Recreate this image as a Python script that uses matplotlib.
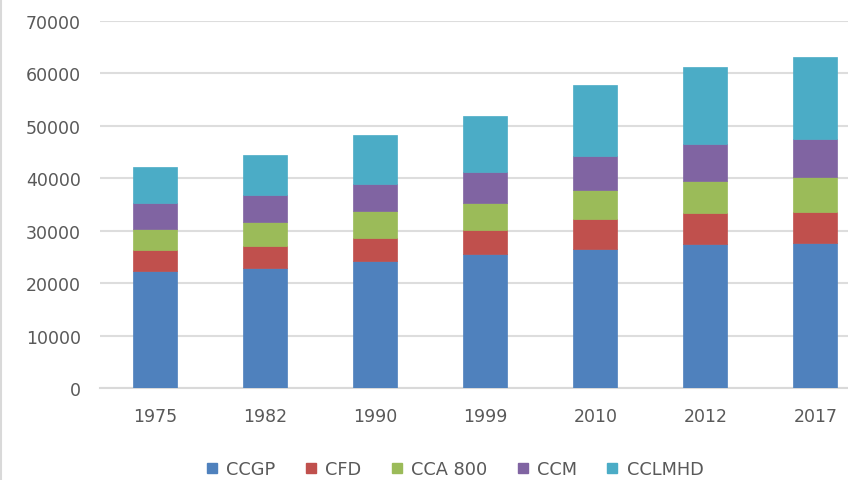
import matplotlib
matplotlib.use("Agg")
import matplotlib.pyplot as plt
import numpy as np
from matplotlib.lines import Line2D

years = ["1975", "1982", "1990", "1999", "2010", "2012", "2017"]
series_names = ["CCGP", "CFD", "CCA 800", "CCM", "CCLMHD"]
ccgp   = [22370, 22830, 24280, 25500, 26510, 27470, 27720]
cfd    = [3890, 4190, 4390, 4640, 5660, 5910, 5850]
cca800 = [4130, 4640, 5150, 5150, 5540, 6040, 6620]
ccm    = [4950, 5150, 5090, 5850, 6600, 7060, 7360]
cclmhd = [6810, 7570, 9340, 10800, 13480, 14690, 15640]
colors = ["#4F81BD", "#C0504D", "#9BBB59", "#8064A2", "#4BACC6"]

plt.rcParams['font.family'] = ['DejaVu Sans']
fig = plt.figure(figsize=(8.48, 4.81), dpi=100)
ax = fig.add_axes([100.3/848, 1-389/481, 770/848, 367/481])

x = np.arange(len(years))
bottom = np.zeros(len(years))
for name, vals, c in zip(series_names, [ccgp, cfd, cca800, ccm, cclmhd], colors):
    ax.bar(x, vals, width=0.4, bottom=bottom, color=c, edgecolor=c, linewidth=0.5, label=name, zorder=3)
    bottom += np.array(vals)

ax.set_xlim(-0.5, len(years)-0.5)
ax.set_ylim(0, 70000)
ax.set_yticks(range(0, 70001, 10000))
ax.set_xticks(x)
ax.set_xticklabels(years)
ax.yaxis.grid(True, color="#DDDDDD", linewidth=1.5, zorder=0)
for s in ["top", "right", "left"]:
    ax.spines[s].set_visible(False)
ax.spines["bottom"].set_color("#D9D9D9")
ax.spines["bottom"].set_linewidth(1.5)
ax.tick_params(axis="both", length=0, labelsize=12.5, colors="#595959")
ax.tick_params(axis="x", pad=14)
ax.tick_params(axis="y", pad=14)

handles = [Line2D([0], [0], marker="s", linestyle="", markersize=7.5, markerfacecolor=c, markeredgecolor=c) for c in colors]
fig.legend(handles, series_names, loc="center", bbox_to_anchor=(454/848, 1-470/481), ncol=5, frameon=False,
           fontsize=12.8, labelcolor="#595959", handletextpad=0.4, columnspacing=1.6, handlelength=0.8)

fig.add_artist(Line2D([1/848, 1/848], [0, 1], color="#D9D9D9", linewidth=1.5, transform=fig.transFigure))

fig.savefig("out.png", dpi=100)
